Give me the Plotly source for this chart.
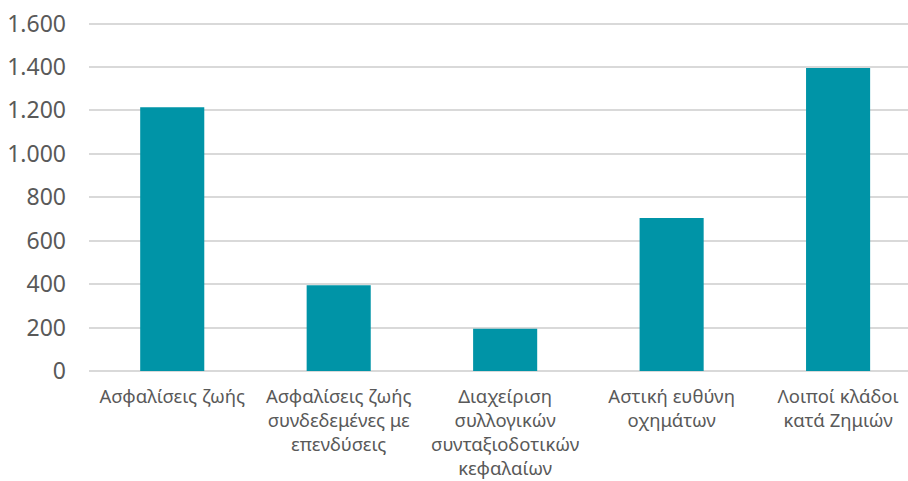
import plotly.graph_objects as go

categories = [
    "Ασφαλίσεις ζωής",
    "Ασφαλίσεις ζωής<br>συνδεδεμένες με<br>επενδύσεις",
    "Διαχείριση<br>συλλογικών<br>συνταξιοδοτικών<br>κεφαλαίων",
    "Αστική ευθύνη<br>οχημάτων",
    "Λοιποί κλάδοι<br>κατά Ζημιών",
]
values = [1215, 395, 195, 705, 1395]
y_ticks = [0, 200, 400, 600, 800, 1000, 1200, 1400, 1600]

fig = go.Figure(
    go.Bar(
        x=list(range(len(categories))),
        y=values,
        marker=dict(color="#0094A7", line=dict(width=0)),
        width=0.385,
    )
)

fig.update_layout(
    width=908,
    height=481,
    margin=dict(l=89, r=0, t=22, b=110, autoexpand=False),
    plot_bgcolor="white",
    paper_bgcolor="white",
    separators=",.",
    showlegend=False,
    font=dict(family="Noto Sans", color="#595959"),
)
fig.update_xaxes(
    tickmode="array",
    tickvals=list(range(len(categories))),
    ticktext=categories,
    range=[-0.5, 4.42],
    showgrid=False,
    showline=False,
    zeroline=False,
    ticks="",
    automargin=False,
    ticklabelstandoff=12,
    tickfont=dict(family="Noto Sans", size=18.5, color="#595959"),
)
fig.update_yaxes(
    range=[0, 1607],
    tickmode="array",
    tickvals=y_ticks,
    tickformat=",d",
    showgrid=True,
    gridcolor="#D9D9D9",
    gridwidth=1.5,
    zeroline=True,
    zerolinecolor="#D9D9D9",
    zerolinewidth=1.5,
    showline=False,
    ticks="",
    automargin=False,
    ticklabelstandoff=22,
    tickfont=dict(family="Noto Sans", size=23, color="#595959"),
)

fig.write_html(
    "out.html",
    config={"displayModeBar": False},
    post_script="document.body.style.margin='0';document.body.style.overflow='hidden';",
)
